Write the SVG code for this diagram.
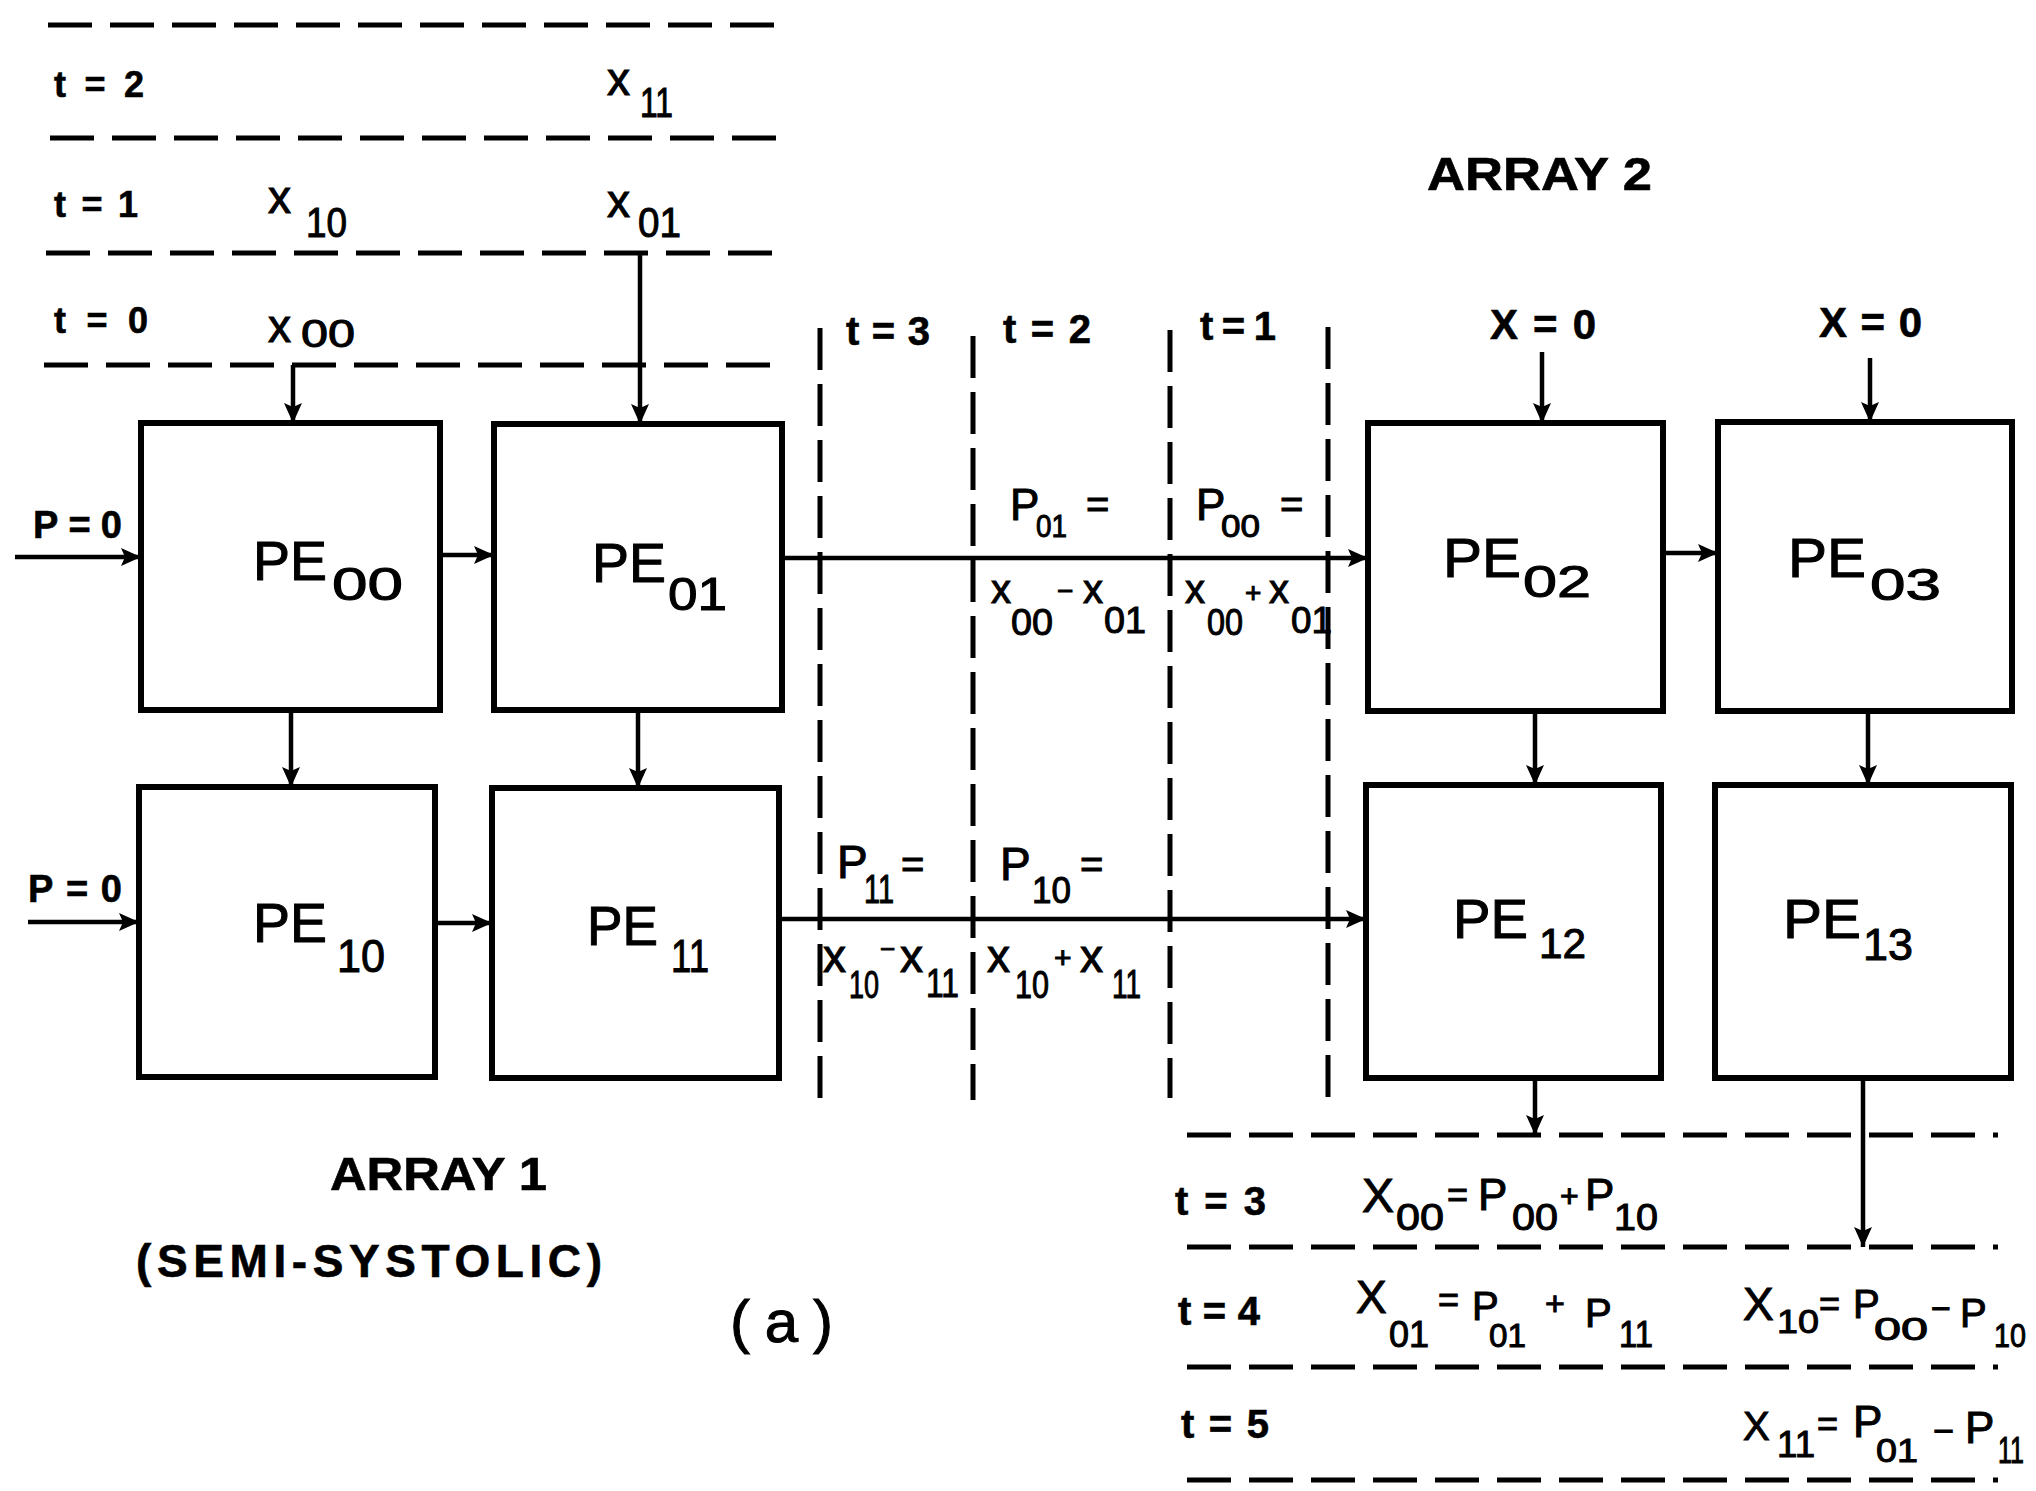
<svg xmlns="http://www.w3.org/2000/svg" width="2036" height="1491" viewBox="0 0 2036 1491">
<style>
text{font-family:'Liberation Sans',Arial,sans-serif;fill:#000;stroke:#000;stroke-width:1}
.b{font-weight:bold;stroke-width:0.6}
.box{fill:#fff;stroke:#000;stroke-width:6}
.con{stroke:#000;stroke-width:4.5;fill:none;marker-end:url(#ah)}
.dh{stroke:#000;stroke-width:5;stroke-dasharray:44 18;fill:none}
.dv{stroke:#000;stroke-width:5;stroke-dasharray:42 14;fill:none}
</style>
<defs>
<marker id="ah" markerUnits="userSpaceOnUse" markerWidth="22" markerHeight="20" refX="20" refY="10" orient="auto">
<path d="M0,1 L20,10 L0,19 L4,10 z" fill="#000"/>
</marker>
</defs>
<rect width="2036" height="1491" fill="#fff"/>

<g id="time-grid">
<line class="dh" x1="48" y1="25" x2="785" y2="25"/>
<line class="dh" x1="50" y1="138" x2="785" y2="138"/>
<line class="dh" x1="46" y1="253" x2="785" y2="253"/>
<line class="dh" x1="44" y1="365" x2="785" y2="365"/>
<line class="dv" x1="820" y1="328" x2="820" y2="1100"/>
<line class="dv" x1="973" y1="336" x2="973" y2="1100"/>
<line class="dv" x1="1170" y1="330" x2="1170" y2="1098"/>
<line class="dv" x1="1328" y1="327" x2="1328" y2="1100"/>
<line class="dh" x1="1187" y1="1135" x2="1998" y2="1135"/>
<line class="dh" x1="1187" y1="1247" x2="1998" y2="1247"/>
<line class="dh" x1="1187" y1="1367" x2="1998" y2="1367"/>
<line class="dh" x1="1187" y1="1480" x2="1998" y2="1480"/>
</g>

<g id="pe00"><rect class="box" x="141" y="423" width="299" height="287"/>
<text><tspan x="253" y="580" font-size="56" textLength="74" lengthAdjust="spacingAndGlyphs">PE</tspan><tspan x="332" y="600" font-size="46" textLength="71" lengthAdjust="spacingAndGlyphs">00</tspan></text></g>
<g id="pe01"><rect class="box" x="494" y="424" width="288" height="286"/>
<text><tspan x="592" y="582" font-size="56" textLength="74" lengthAdjust="spacingAndGlyphs">PE</tspan><tspan x="668" y="610" font-size="46" textLength="59" lengthAdjust="spacingAndGlyphs">01</tspan></text></g>
<g id="pe10"><rect class="box" x="139" y="787" width="296" height="290"/>
<text><tspan x="253" y="942" font-size="56" textLength="74" lengthAdjust="spacingAndGlyphs">PE</tspan><tspan x="337" y="972" font-size="46" textLength="48" lengthAdjust="spacingAndGlyphs">10</tspan></text></g>
<g id="pe11"><rect class="box" x="492" y="788" width="287" height="290"/>
<text><tspan x="587" y="945" font-size="56" textLength="71" lengthAdjust="spacingAndGlyphs">PE</tspan><tspan x="671" y="972" font-size="46" textLength="38" lengthAdjust="spacingAndGlyphs">11</tspan></text></g>
<g id="pe02"><rect class="box" x="1368" y="423" width="295" height="288"/>
<text><tspan x="1443" y="577" font-size="56" textLength="78" lengthAdjust="spacingAndGlyphs">PE</tspan><tspan x="1523" y="597" font-size="44" textLength="68" lengthAdjust="spacingAndGlyphs">02</tspan></text></g>
<g id="pe03"><rect class="box" x="1718" y="422" width="294" height="289"/>
<text><tspan x="1788" y="577" font-size="56" textLength="78" lengthAdjust="spacingAndGlyphs">PE</tspan><tspan x="1870" y="600" font-size="44" textLength="71" lengthAdjust="spacingAndGlyphs">03</tspan></text></g>
<g id="pe12"><rect class="box" x="1366" y="785" width="295" height="293"/>
<text><tspan x="1453" y="938" font-size="56" textLength="75" lengthAdjust="spacingAndGlyphs">PE</tspan><tspan x="1539" y="958" font-size="42" textLength="47" lengthAdjust="spacingAndGlyphs">12</tspan></text></g>
<g id="pe13"><rect class="box" x="1715" y="785" width="296" height="293"/>
<text><tspan x="1783" y="938" font-size="56" textLength="78" lengthAdjust="spacingAndGlyphs">PE</tspan><tspan x="1863" y="960" font-size="44" textLength="50" lengthAdjust="spacingAndGlyphs">13</tspan></text></g>

<g id="connectors">
<line class="con" x1="293" y1="365" x2="293" y2="423"/>
<line class="con" x1="640" y1="253" x2="640" y2="424"/>
<line class="con" x1="15" y1="557" x2="141" y2="557"/>
<line class="con" x1="440" y1="555" x2="494" y2="555"/>
<line class="con" x1="782" y1="558" x2="1368" y2="558"/>
<line class="con" x1="291" y1="710" x2="291" y2="787"/>
<line class="con" x1="638" y1="710" x2="638" y2="788"/>
<line class="con" x1="28" y1="922" x2="139" y2="922"/>
<line class="con" x1="435" y1="923" x2="492" y2="923"/>
<line class="con" x1="779" y1="919" x2="1366" y2="919"/>
<line class="con" x1="1542" y1="352" x2="1542" y2="423"/>
<line class="con" x1="1870" y1="358" x2="1870" y2="422"/>
<line class="con" x1="1663" y1="553" x2="1718" y2="553"/>
<line class="con" x1="1535" y1="711" x2="1535" y2="785"/>
<line class="con" x1="1868" y1="711" x2="1868" y2="785"/>
<line class="con" x1="1535" y1="1078" x2="1535" y2="1135"/>
<line class="con" x1="1863" y1="1078" x2="1863" y2="1247"/>
</g>

<g id="labels">
<text class="b" x="54" y="97" font-size="36" textLength="90">t=2</text>
<text class="b" x="54" y="217" font-size="36" textLength="84">t=1</text>
<text class="b" x="54" y="333" font-size="36" textLength="94">t=0</text>
<text><tspan x="607" y="95" font-size="46">x</tspan><tspan x="640" y="117" font-size="42" textLength="33" lengthAdjust="spacingAndGlyphs">11</tspan></text>
<text><tspan x="268" y="213" font-size="46">x</tspan><tspan x="306" y="237" font-size="42" textLength="41" lengthAdjust="spacingAndGlyphs">10</tspan></text>
<text><tspan x="607" y="217" font-size="46">x</tspan><tspan x="638" y="237" font-size="42" textLength="43" lengthAdjust="spacingAndGlyphs">01</tspan></text>
<text><tspan x="268" y="342" font-size="46">x</tspan><tspan x="301" y="347" font-size="38" textLength="54" lengthAdjust="spacingAndGlyphs">00</tspan></text>

<text class="b" x="33" y="538" font-size="38" textLength="89">P=0</text>
<text class="b" x="28" y="902" font-size="38" textLength="94">P=0</text>

<text class="b" x="846" y="345" font-size="40" textLength="84">t=3</text>
<text class="b" x="1003" y="343" font-size="40" textLength="88">t=2</text>
<text class="b" x="1200" y="340" font-size="40" textLength="76">t=1</text>

<text><tspan x="1010" y="520" font-size="44">P</tspan><tspan x="1036" y="537" font-size="32" textLength="31" lengthAdjust="spacingAndGlyphs">01</tspan><tspan x="1086" y="518" font-size="40">=</tspan></text>
<text><tspan x="1196" y="520" font-size="44">P</tspan><tspan x="1221" y="537" font-size="32" textLength="39" lengthAdjust="spacingAndGlyphs">00</tspan><tspan x="1280" y="518" font-size="40">=</tspan></text>
<text><tspan x="991" y="603" font-size="40">x</tspan><tspan x="1011" y="635" font-size="36" textLength="42" lengthAdjust="spacingAndGlyphs">00</tspan><tspan x="1057" y="600" font-size="28">−</tspan><tspan x="1083" y="603" font-size="40">x</tspan><tspan x="1104" y="633" font-size="36" textLength="42" lengthAdjust="spacingAndGlyphs">01</tspan></text>
<text><tspan x="1185" y="603" font-size="40">x</tspan><tspan x="1207" y="635" font-size="36" textLength="36" lengthAdjust="spacingAndGlyphs">00</tspan><tspan x="1245" y="602" font-size="28">+</tspan><tspan x="1269" y="603" font-size="40">x</tspan><tspan x="1291" y="633" font-size="36" textLength="41" lengthAdjust="spacingAndGlyphs">01</tspan></text>

<text><tspan x="837" y="878" font-size="46">P</tspan><tspan x="864" y="903" font-size="40" textLength="30" lengthAdjust="spacingAndGlyphs">11</tspan><tspan x="901" y="878" font-size="40">=</tspan></text>
<text><tspan x="1000" y="880" font-size="46">P</tspan><tspan x="1032" y="903" font-size="36" textLength="39" lengthAdjust="spacingAndGlyphs">10</tspan><tspan x="1080" y="878" font-size="40">=</tspan></text>
<text><tspan x="823" y="972" font-size="46">x</tspan><tspan x="849" y="998" font-size="38" textLength="30" lengthAdjust="spacingAndGlyphs">10</tspan><tspan x="880" y="958" font-size="26">−</tspan><tspan x="900" y="972" font-size="46">x</tspan><tspan x="926" y="997" font-size="40" textLength="33" lengthAdjust="spacingAndGlyphs">11</tspan></text>
<text><tspan x="987" y="972" font-size="46">x</tspan><tspan x="1015" y="998" font-size="38" textLength="34" lengthAdjust="spacingAndGlyphs">10</tspan><tspan x="1054" y="968" font-size="30">+</tspan><tspan x="1080" y="972" font-size="46">x</tspan><tspan x="1112" y="998" font-size="40" textLength="29" lengthAdjust="spacingAndGlyphs">11</tspan></text>

<text class="b" x="1427" y="190" font-size="46" textLength="225" lengthAdjust="spacingAndGlyphs">ARRAY 2</text>
<text class="b" x="1490" y="339" font-size="42" textLength="106">X=0</text>
<text class="b" x="1819" y="337" font-size="42" textLength="103">X=0</text>

<text class="b" x="1175" y="1215" font-size="40" textLength="91">t=3</text>
<text class="b" x="1178" y="1325" font-size="40" textLength="82">t=4</text>
<text class="b" x="1181" y="1438" font-size="40" textLength="88">t=5</text>

<text><tspan x="1362" y="1212" font-size="48">X</tspan><tspan x="1396" y="1230" font-size="36" textLength="48" lengthAdjust="spacingAndGlyphs">00</tspan><tspan x="1447" y="1207" font-size="36">=</tspan><tspan x="1478" y="1210" font-size="44">P</tspan><tspan x="1512" y="1230" font-size="36" textLength="46" lengthAdjust="spacingAndGlyphs">00</tspan><tspan x="1560" y="1207" font-size="32">+</tspan><tspan x="1585" y="1210" font-size="44">P</tspan><tspan x="1614" y="1230" font-size="36" textLength="44" lengthAdjust="spacingAndGlyphs">10</tspan></text>
<text><tspan x="1356" y="1313" font-size="46">X</tspan><tspan x="1389" y="1347" font-size="36" textLength="40" lengthAdjust="spacingAndGlyphs">01</tspan><tspan x="1438" y="1312" font-size="36">=</tspan><tspan x="1472" y="1320" font-size="40">P</tspan><tspan x="1489" y="1347" font-size="34" textLength="37" lengthAdjust="spacingAndGlyphs">01</tspan><tspan x="1545" y="1315" font-size="34">+</tspan><tspan x="1585" y="1327" font-size="40">P</tspan><tspan x="1619" y="1347" font-size="36" textLength="34" lengthAdjust="spacingAndGlyphs">11</tspan></text>
<text><tspan x="1743" y="1320" font-size="46">X</tspan><tspan x="1777" y="1333" font-size="34" textLength="42" lengthAdjust="spacingAndGlyphs">10</tspan><tspan x="1819" y="1316" font-size="36">=</tspan><tspan x="1853" y="1318" font-size="40">P</tspan><tspan x="1874" y="1340" font-size="32" textLength="54" lengthAdjust="spacingAndGlyphs">00</tspan><tspan x="1931" y="1320" font-size="34">−</tspan><tspan x="1960" y="1327" font-size="40">P</tspan><tspan x="1994" y="1347" font-size="34" textLength="32" lengthAdjust="spacingAndGlyphs">10</tspan></text>
<text><tspan x="1743" y="1440" font-size="40">X</tspan><tspan x="1777" y="1457" font-size="36" textLength="38" lengthAdjust="spacingAndGlyphs">11</tspan><tspan x="1817" y="1436" font-size="36">=</tspan><tspan x="1853" y="1437" font-size="44">P</tspan><tspan x="1876" y="1462" font-size="34" textLength="42" lengthAdjust="spacingAndGlyphs">01</tspan><tspan x="1933" y="1443" font-size="36">−</tspan><tspan x="1965" y="1443" font-size="44">P</tspan><tspan x="1998" y="1463" font-size="36" textLength="26" lengthAdjust="spacingAndGlyphs">11</tspan></text>

<text class="b" x="330" y="1190" font-size="46" textLength="217" lengthAdjust="spacingAndGlyphs">ARRAY 1</text>
<text class="b" x="136" y="1277" font-size="46" textLength="466">(SEMI-SYSTOLIC)</text>
<text x="730" y="1342" font-size="60" textLength="103">(a)</text>
</g>
</svg>
